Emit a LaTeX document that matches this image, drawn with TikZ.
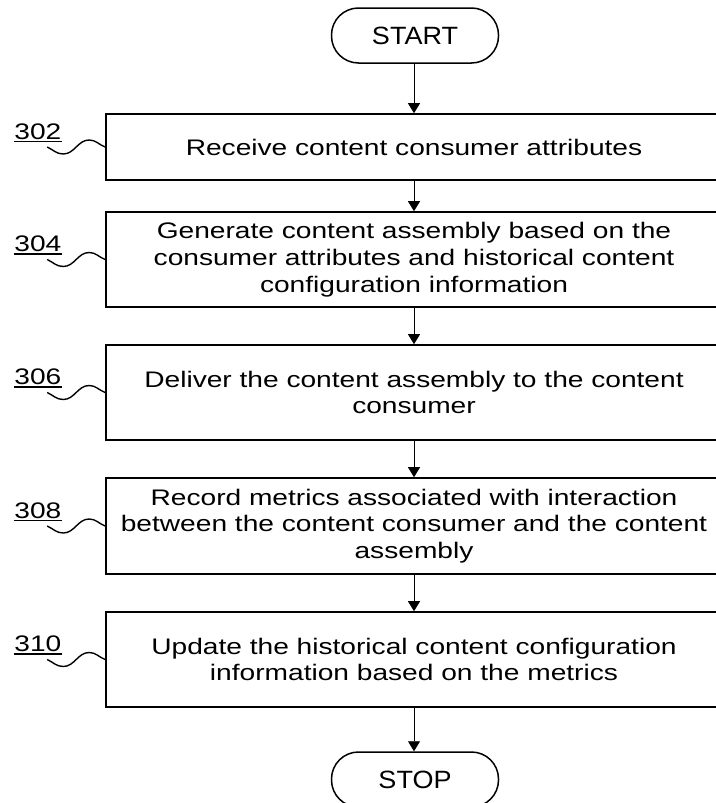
\documentclass[tikz,border=0pt]{standalone}
\usepackage{fontspec}
\setmainfont{Liberation Sans}[FakeStretch=1.25]
\newfontfamily\termfont{Liberation Sans}[FakeStretch=1.08]
\usetikzlibrary{arrows.meta,calc}

\begin{document}
\begin{tikzpicture}[x=1pt,y=-1pt,
  stepbox/.style={draw, line width=1.6pt, minimum width=616pt, inner sep=0pt,
    align=center, font=\fontsize{22.5pt}{26.7pt}\selectfont},
  terminal/.style={draw, line width=1.5pt, rounded corners=27pt,
    minimum width=167pt, minimum height=55pt, inner sep=0pt,
    font=\termfont\fontsize{25pt}{30pt}\selectfont},
  flow/.style={line width=0.9pt, -{Triangle[width=12pt,length=10pt]}},
  reflabel/.style={anchor=base west, inner sep=0pt,
    font=\fontsize{22.5pt}{26.7pt}\selectfont},
  leader/.style={line width=1.4pt},
  uline/.style={line width=1.8pt},
]
\useasboundingbox (0,0) rectangle (715,803);

% terminals
\node[terminal] (start) at (415,35.5) {START};
\node[terminal] (stop)  at (415,779.5) {STOP};

% process steps
\node[stepbox, minimum height=66pt] (b1) at (414,147)
  {Receive content consumer attributes};
\node[stepbox, minimum height=95pt] (b2) at (414,259.5)
  {Generate content assembly based on the\\consumer attributes and historical content\\configuration information};
\node[stepbox, minimum height=95pt] (b3) at (414,392.5)
  {Deliver the content assembly to the content\\consumer};
\node[stepbox, minimum height=96pt] (b4) at (414,526)
  {Record metrics associated with interaction\\between the content consumer and the content\\assembly};
\node[stepbox, minimum height=95pt] (b5) at (414,659.5)
  {Update the historical content configuration\\information based on the metrics};

% flow arrows
\draw[flow] (start.south -| b1.north) -- (b1.north);
\draw[flow] (b1) -- (b2);
\draw[flow] (b2) -- (b3);
\draw[flow] (b3) -- (b4);
\draw[flow] (b4) -- (b5);
\draw[flow] (b5.south) -- (b5.south |- stop.north);

% reference numerals with leader lines
\foreach \b/\num in {b1/302, b2/304, b3/306, b4/308, b5/310}{
  \path (\b.west) ++(-58,0) coordinate (\b-lead);
  \node[reflabel] (\b-ref) at ($(\b-lead)+(-33,-8)$) {\num};
  \draw[uline] ([yshift=-2.5pt]\b-ref.base west) -- ([yshift=-2.5pt]\b-ref.base east);
  \draw[leader] (\b-lead) to[out=-25,in=180] ++(16,7)
    to[out=0,in=180] ++(26,-14) to[out=0,in=160] (\b.west);
}
\end{tikzpicture}
\end{document}
